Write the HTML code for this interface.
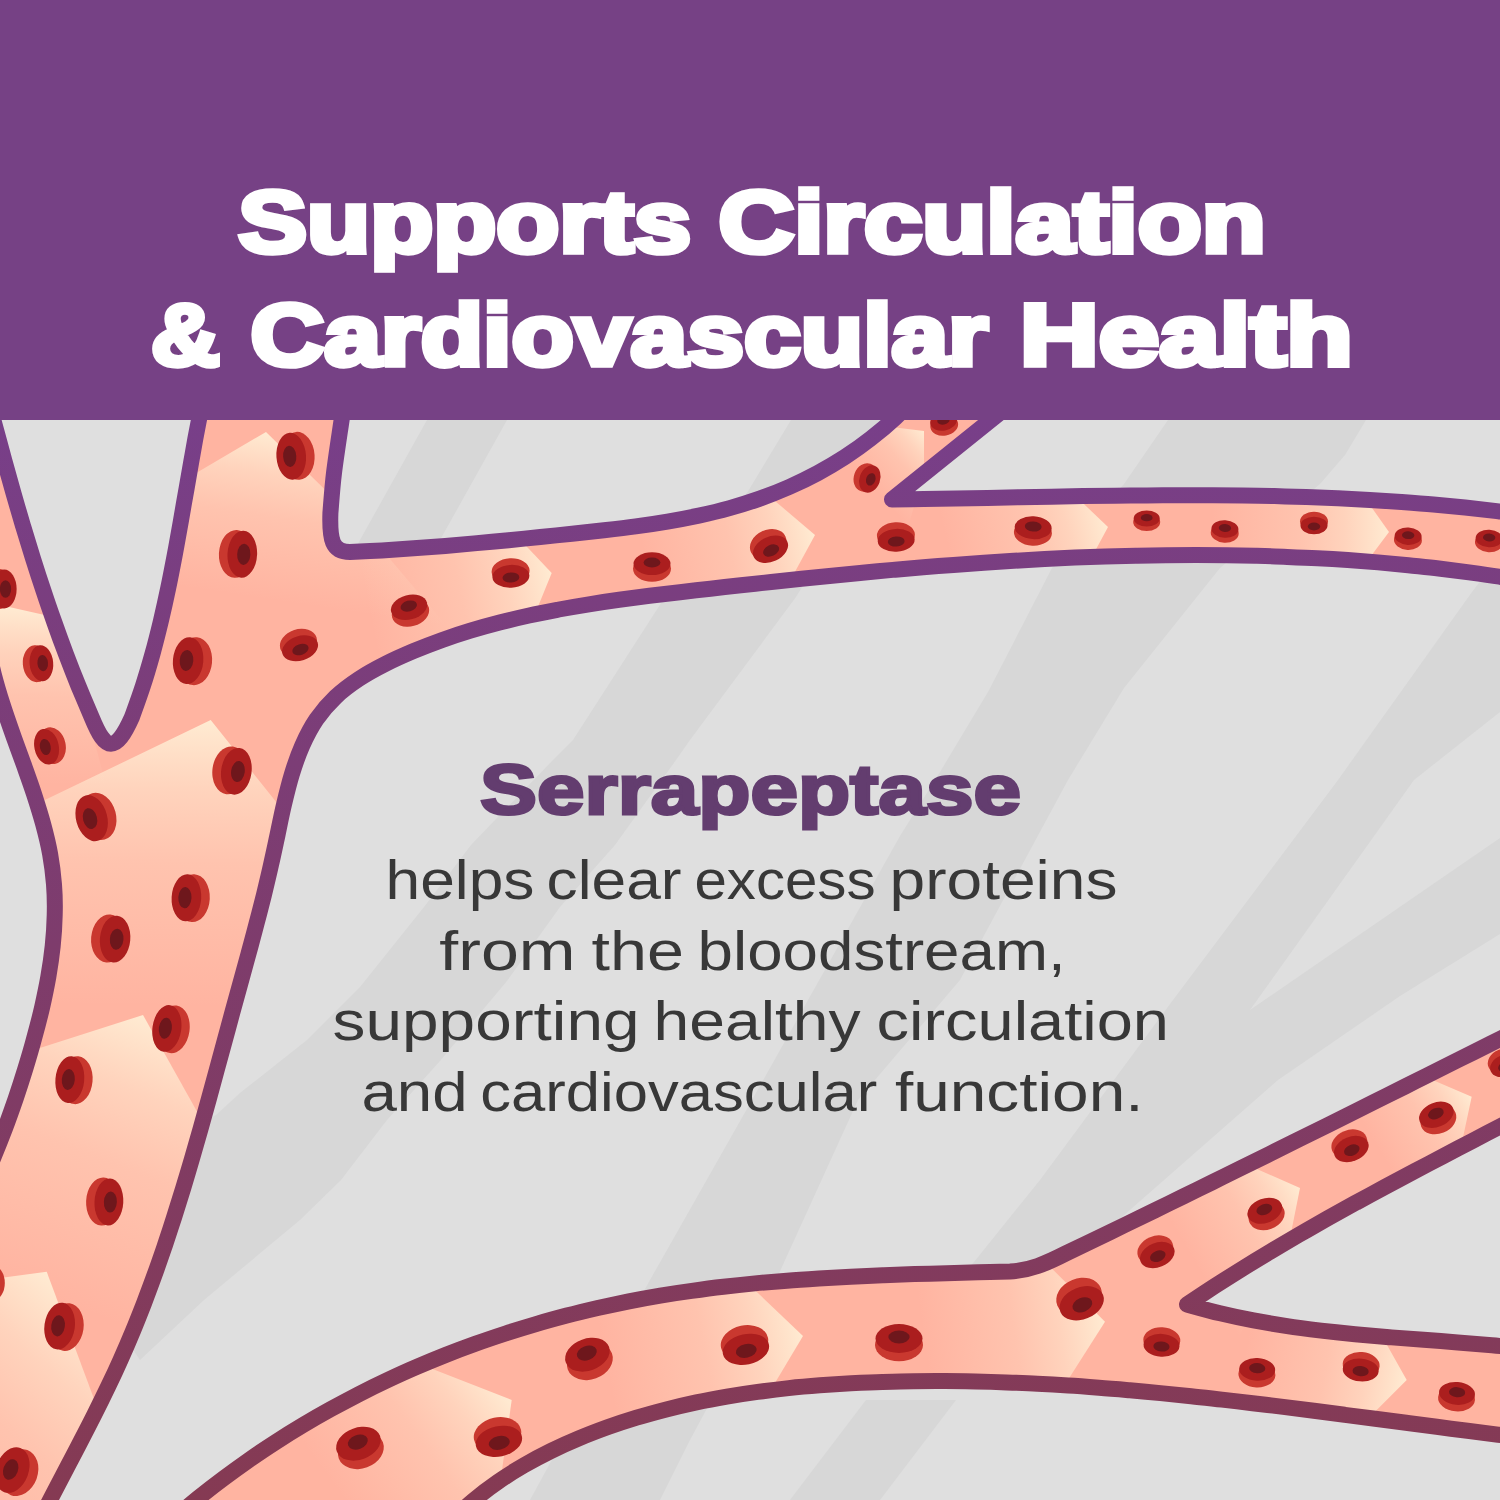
<!DOCTYPE html>
<html><head><meta charset="utf-8"><title>Supports Circulation</title>
<style>html,body{margin:0;padding:0;background:#dfdfdf;}body{width:1500px;height:1500px;position:relative;overflow:hidden;font-family:"Liberation Sans",sans-serif;}</style></head>
<body>
<svg width="1500" height="1500" viewBox="0 0 1500 1500" style="position:absolute;left:0;top:0">
<defs>
<linearGradient id="strk" gradientUnits="userSpaceOnUse" x1="0" y1="420" x2="0" y2="1500"><stop offset="0" stop-color="#783f89"/><stop offset="0.486" stop-color="#7e3c6c"/><stop offset="1" stop-color="#853a53"/></linearGradient>
<clipPath id="ct"><path d="M-30.0,330.0 C-28.6,335.5 -24.4,351.8 -21.5,362.8 C-18.7,373.7 -15.9,384.6 -13.0,395.5 C-10.1,406.5 -7.3,417.4 -4.4,428.3 C-1.4,439.2 1.5,450.1 4.5,461.0 C7.5,471.9 10.5,482.8 13.6,493.6 C16.7,504.5 19.9,515.3 23.1,526.2 C26.4,537.0 29.7,547.8 33.0,558.5 C36.4,569.3 39.9,580.1 43.5,590.8 C47.0,601.5 50.7,612.1 54.5,622.8 C58.2,633.4 62.1,644.0 66.1,654.5 C70.1,665.1 74.2,675.6 78.5,686.1 C82.8,696.5 89.5,712.1 91.7,717.3 C99.0,735.0 104.5,743.8 111.0,743.8 C117.5,743.8 124.0,735.0 131.9,717.3 L131.9,717.3 C133.8,712.0 139.6,696.2 143.0,685.6 C146.5,675.0 149.6,664.2 152.6,653.5 C155.6,642.7 158.3,631.8 160.9,621.0 C163.5,610.1 165.9,599.2 168.2,588.2 C170.5,577.2 172.6,566.2 174.7,555.2 C176.8,544.2 178.7,533.2 180.7,522.1 C182.6,511.1 184.5,500.0 186.5,489.0 C188.4,477.9 190.3,466.9 192.3,455.9 C194.2,444.8 196.2,433.8 198.4,422.8 C200.5,411.9 203.9,395.5 205.0,390.0 L346.0,390.0 C345.3,395.0 343.6,406.2 341.6,420.0 C339.6,433.8 335.9,457.5 334.0,473.0 C332.1,488.5 331.0,506.3 330.4,513.0 C329.5,540.0 332.0,552.0 350.0,552.0 L350.0,552.0 C355.3,551.7 371.3,551.0 381.9,550.4 C392.5,549.7 403.1,549.0 413.6,548.3 C424.2,547.5 434.8,546.7 445.3,545.9 C455.9,545.0 466.4,544.1 476.9,543.1 C487.5,542.2 498.0,541.2 508.6,540.2 C519.2,539.1 529.7,538.1 540.3,537.0 C550.9,535.9 561.5,534.9 572.1,533.8 C582.7,532.6 593.4,531.5 604.0,530.3 C614.6,529.1 625.2,527.9 635.8,526.4 C646.4,525.0 657.0,523.4 667.5,521.6 C678.0,519.9 688.4,517.9 698.8,515.7 C709.1,513.4 719.5,510.9 729.6,508.1 C739.8,505.3 749.9,502.1 759.8,498.6 C769.8,495.1 779.6,491.2 789.2,487.0 C798.9,482.7 808.4,478.1 817.7,473.1 C826.9,468.1 836.1,462.7 844.9,457.0 C853.8,451.2 862.4,445.1 870.8,438.5 C879.2,432.0 887.4,425.1 895.2,417.8 C903.1,410.6 914.2,398.8 918.0,395.0 L1022.0,395.0 C1000.3,412.4 913.7,482.1 892.0,499.5 L892.0,499.5 C897.3,499.4 913.2,499.2 923.8,499.1 C934.4,498.9 945.0,498.7 955.7,498.5 C966.3,498.3 976.9,498.1 987.5,497.9 C998.1,497.7 1008.7,497.5 1019.4,497.3 C1030.0,497.1 1040.6,496.9 1051.2,496.7 C1061.9,496.5 1072.5,496.3 1083.1,496.1 C1093.8,496.0 1104.4,495.8 1115.0,495.7 C1125.6,495.6 1136.3,495.4 1146.9,495.4 C1157.5,495.3 1168.2,495.2 1178.8,495.2 C1189.4,495.2 1200.0,495.2 1210.7,495.3 C1221.3,495.3 1231.9,495.4 1242.5,495.5 C1253.1,495.7 1263.8,495.9 1274.4,496.1 C1285.0,496.4 1295.6,496.6 1306.2,497.0 C1316.8,497.4 1327.4,497.8 1338.0,498.2 C1348.6,498.7 1359.2,499.3 1369.8,499.9 C1380.4,500.5 1391.0,501.2 1401.6,501.9 C1412.2,502.7 1422.8,503.5 1433.4,504.5 C1443.9,505.4 1454.5,506.4 1465.1,507.5 C1475.6,508.6 1486.2,509.8 1496.8,511.1 C1507.3,512.4 1517.9,513.7 1528.4,515.2 C1538.9,516.7 1554.7,519.2 1560.0,520.0 L1560.0,587.0 C1554.9,586.1 1539.8,583.3 1529.7,581.5 C1519.6,579.8 1509.5,578.2 1499.4,576.7 C1489.3,575.1 1479.2,573.7 1469.1,572.3 C1458.9,571.0 1448.8,569.7 1438.7,568.5 C1428.6,567.3 1418.5,566.3 1408.4,565.2 C1398.3,564.2 1388.2,563.3 1378.1,562.4 C1368.0,561.6 1357.9,560.8 1347.8,560.1 C1337.7,559.4 1327.6,558.8 1317.5,558.3 C1307.4,557.7 1297.3,557.3 1287.2,556.9 C1277.1,556.4 1267.0,556.1 1256.9,555.8 C1246.8,555.6 1236.7,555.4 1226.6,555.3 C1216.4,555.1 1206.3,555.0 1196.2,555.0 C1186.1,555.0 1176.0,555.1 1165.9,555.2 C1155.8,555.3 1145.7,555.5 1135.6,555.7 C1125.5,555.9 1115.4,556.2 1105.3,556.5 C1095.1,556.8 1085.0,557.2 1074.9,557.6 C1064.8,558.1 1054.7,558.6 1044.6,559.1 C1034.5,559.6 1024.4,560.2 1014.2,560.8 C1004.1,561.4 994.0,562.0 983.9,562.7 C973.8,563.4 963.7,564.1 953.5,564.9 C943.4,565.7 933.3,566.5 923.2,567.3 C913.0,568.2 902.9,569.0 892.8,569.9 C882.7,570.8 872.5,571.8 862.4,572.7 C852.3,573.7 842.2,574.6 832.0,575.7 C821.9,576.7 811.8,577.7 801.6,578.7 C791.5,579.8 781.4,580.9 771.2,582.0 C761.1,583.0 750.9,584.2 740.8,585.3 C730.7,586.4 720.5,587.5 710.4,588.7 C700.2,589.8 690.1,591.0 679.9,592.2 C669.8,593.4 659.6,594.6 649.5,595.8 C639.4,597.1 629.3,598.4 619.2,599.8 C609.1,601.2 599.0,602.7 589.0,604.3 C578.9,605.9 568.9,607.6 558.9,609.5 C549.0,611.4 539.0,613.3 529.1,615.5 C519.2,617.7 509.4,620.0 499.6,622.5 C489.8,625.0 480.1,627.7 470.4,630.7 C460.8,633.6 451.2,636.8 441.6,640.2 C432.1,643.6 422.7,647.3 413.3,651.2 C403.9,655.2 394.5,659.3 385.5,663.9 C376.4,668.5 367.4,673.4 359.0,678.9 C350.7,684.4 342.6,690.3 335.5,697.1 C328.4,703.8 322.0,711.3 316.4,719.4 C310.9,727.5 306.3,736.5 302.2,745.7 C298.1,754.9 294.8,764.7 291.8,774.5 C288.8,784.3 286.4,794.4 284.0,804.5 C281.6,814.6 279.6,824.9 277.5,835.0 C275.3,845.2 273.2,855.3 270.9,865.3 C268.7,875.3 266.3,885.2 263.9,895.1 C261.4,905.0 258.9,914.7 256.3,924.5 C253.8,934.3 251.1,944.0 248.5,953.7 C245.9,963.4 243.2,973.1 240.5,982.8 C237.9,992.5 235.2,1002.2 232.5,1011.9 C229.9,1021.7 227.2,1031.4 224.6,1041.2 C222.0,1050.9 219.3,1060.7 216.6,1070.5 C214.0,1080.3 211.3,1090.1 208.6,1099.9 C205.9,1109.7 203.2,1119.5 200.4,1129.3 C197.7,1139.0 194.9,1148.8 192.0,1158.6 C189.1,1168.4 186.3,1178.1 183.3,1187.9 C180.3,1197.6 177.3,1207.3 174.2,1217.0 C171.1,1226.7 167.9,1236.3 164.7,1246.0 C161.4,1255.6 158.1,1265.2 154.6,1274.8 C151.2,1284.3 147.6,1293.8 144.0,1303.3 C140.3,1312.8 136.6,1322.2 132.7,1331.6 C128.8,1341.0 124.8,1350.3 120.7,1359.5 C116.6,1368.8 112.3,1378.0 107.9,1387.1 C103.5,1396.3 99.0,1405.4 94.4,1414.5 C89.9,1423.5 85.2,1432.6 80.5,1441.6 C75.9,1450.6 71.1,1459.6 66.4,1468.6 C61.7,1477.6 57.0,1486.6 52.3,1495.6 C47.7,1504.6 43.0,1513.6 38.4,1522.7 C33.9,1531.8 27.2,1545.5 25.0,1550.0 L-60.0,1550.0 C-64.0,1543.7 -77.3,1524.4 -84.0,1512.2 C-90.7,1500.0 -95.9,1488.2 -100.0,1476.6 C-104.2,1465.1 -107.0,1454.0 -108.9,1443.0 C-110.8,1432.1 -111.6,1421.5 -111.6,1411.1 C-111.6,1400.7 -110.6,1390.6 -109.0,1380.6 C-107.4,1370.6 -104.9,1360.9 -102.0,1351.3 C-99.1,1341.7 -95.5,1332.2 -91.5,1322.9 C-87.6,1313.5 -83.2,1304.3 -78.5,1295.1 C-73.9,1285.9 -68.9,1276.8 -63.9,1267.7 C-58.9,1258.6 -53.6,1249.5 -48.5,1240.4 C-43.4,1231.3 -38.2,1222.2 -33.3,1213.0 C-28.4,1203.8 -23.6,1194.6 -19.1,1185.2 C-14.6,1175.8 -10.4,1166.4 -6.3,1156.9 C-2.3,1147.3 1.5,1137.7 5.2,1128.0 C8.9,1118.3 12.3,1108.5 15.7,1098.7 C19.0,1088.8 22.2,1078.8 25.3,1068.8 C28.4,1058.8 31.4,1048.7 34.1,1038.5 C36.9,1028.4 39.6,1018.1 42.0,1007.9 C44.3,997.6 46.5,987.3 48.3,977.0 C50.1,966.7 51.6,956.4 52.7,946.1 C53.8,935.7 54.5,925.4 54.7,915.1 C55.0,904.9 54.8,894.6 54.0,884.4 C53.2,874.2 51.9,864.1 50.1,854.0 C48.3,843.9 45.8,833.9 43.1,823.9 C40.4,813.9 37.2,803.9 34.0,794.0 C30.7,784.0 27.1,774.1 23.6,764.2 C20.1,754.3 16.3,744.4 12.8,734.4 C9.3,724.5 5.8,714.5 2.6,704.5 C-0.6,694.5 -3.6,684.5 -6.2,674.4 C-8.8,664.3 -10.8,654.1 -12.9,644.0 C-15.0,633.8 -16.6,623.6 -18.8,613.5 C-21.0,603.4 -23.1,593.3 -26.1,583.4 C-29.2,573.5 -32.5,563.7 -37.0,554.1 C-41.6,544.5 -47.6,535.2 -53.5,525.8 C-59.4,516.5 -67.1,507.5 -72.4,498.0 C-77.8,488.5 -83.5,479.1 -85.5,468.9 C-87.5,458.7 -88.4,448.3 -84.2,436.8 C-79.9,425.3 -64.0,406.1 -60.0,400.0 Z"/></clipPath>
<clipPath id="cb"><path d="M150.0,1540.0 C154.0,1536.4 165.8,1525.5 173.8,1518.5 C181.9,1511.5 190.1,1504.7 198.3,1498.0 C206.6,1491.3 215.0,1484.8 223.6,1478.4 C232.1,1472.0 240.7,1465.8 249.4,1459.7 C258.1,1453.7 267.0,1447.7 275.9,1442.0 C284.8,1436.2 293.8,1430.6 302.9,1425.2 C312.0,1419.7 321.2,1414.4 330.5,1409.3 C339.8,1404.2 349.2,1399.2 358.6,1394.3 C368.0,1389.5 377.6,1384.8 387.2,1380.3 C396.8,1375.8 406.4,1371.4 416.2,1367.2 C425.9,1363.0 435.7,1358.9 445.6,1355.0 C455.5,1351.1 465.4,1347.4 475.4,1343.8 C485.4,1340.2 495.5,1336.8 505.6,1333.5 C515.7,1330.2 525.8,1327.1 536.0,1324.1 C546.2,1321.1 556.5,1318.3 566.7,1315.6 C577.0,1312.9 587.4,1310.4 597.7,1308.0 C608.1,1305.7 618.5,1303.5 628.9,1301.4 C639.3,1299.4 649.8,1297.5 660.3,1295.7 C670.7,1293.9 681.2,1292.3 691.8,1290.9 C702.3,1289.4 712.8,1288.0 723.4,1286.8 C734.0,1285.5 744.5,1284.4 755.1,1283.4 C765.7,1282.4 776.3,1281.5 787.0,1280.7 C797.6,1279.8 808.2,1279.1 818.8,1278.4 C829.5,1277.8 840.1,1277.2 850.7,1276.7 C861.4,1276.1 872.0,1275.7 882.7,1275.2 C893.3,1274.8 903.9,1274.5 914.6,1274.1 C925.2,1273.8 935.8,1273.5 946.4,1273.2 C957.1,1272.9 967.7,1272.6 978.3,1272.3 C988.9,1272.0 1004.7,1271.6 1010.0,1271.5 C1030.0,1270.5 1045.0,1264.0 1066.7,1253.0 L1066.7,1253.0 C1071.6,1250.7 1086.2,1243.6 1095.9,1239.0 C1105.6,1234.3 1115.3,1229.6 1125.0,1224.9 C1134.7,1220.1 1144.4,1215.4 1154.1,1210.7 C1163.8,1206.0 1173.5,1201.2 1183.2,1196.5 C1192.9,1191.7 1202.6,1187.0 1212.3,1182.2 C1222.0,1177.5 1231.6,1172.7 1241.3,1167.9 C1251.0,1163.1 1260.7,1158.4 1270.3,1153.6 C1280.0,1148.8 1289.7,1144.0 1299.3,1139.2 C1309.0,1134.4 1318.7,1129.6 1328.3,1124.8 C1338.0,1120.0 1347.7,1115.2 1357.3,1110.4 C1367.0,1105.5 1376.6,1100.7 1386.3,1095.9 C1395.9,1091.1 1405.6,1086.3 1415.2,1081.4 C1424.9,1076.6 1434.5,1071.8 1444.2,1066.9 C1453.8,1062.1 1463.5,1057.3 1473.1,1052.5 C1482.8,1047.6 1492.4,1042.8 1502.1,1038.0 C1511.7,1033.1 1521.4,1028.3 1531.0,1023.5 C1540.7,1018.7 1555.2,1011.4 1560.0,1009.0 L1560.0,1095.0 C1555.1,1097.6 1540.6,1105.2 1530.9,1110.3 C1521.2,1115.4 1511.4,1120.5 1501.7,1125.6 C1492.0,1130.7 1482.2,1135.7 1472.5,1140.8 C1462.8,1145.9 1453.0,1151.0 1443.3,1156.1 C1433.6,1161.2 1423.9,1166.3 1414.2,1171.4 C1404.5,1176.6 1394.8,1181.7 1385.1,1186.9 C1375.4,1192.1 1365.8,1197.4 1356.1,1202.6 C1346.5,1207.9 1336.9,1213.2 1327.3,1218.6 C1317.8,1224.0 1308.2,1229.4 1298.7,1234.9 C1289.3,1240.4 1279.8,1246.0 1270.4,1251.6 C1261.0,1257.2 1251.6,1262.9 1242.3,1268.7 C1233.0,1274.5 1223.7,1280.4 1214.5,1286.3 C1205.3,1292.3 1191.6,1301.5 1187.0,1304.5 L1187.0,1304.5 C1192.5,1306.0 1209.0,1310.7 1220.1,1313.3 C1231.2,1316.0 1242.3,1318.3 1253.5,1320.4 C1264.7,1322.5 1275.9,1324.4 1287.2,1326.1 C1298.4,1327.8 1309.7,1329.2 1321.1,1330.6 C1332.4,1331.9 1343.8,1333.1 1355.1,1334.2 C1366.5,1335.3 1377.9,1336.2 1389.3,1337.2 C1400.7,1338.1 1412.1,1338.9 1423.6,1339.8 C1435.0,1340.7 1446.4,1341.5 1457.8,1342.4 C1469.2,1343.3 1480.6,1344.2 1492.0,1345.2 C1503.4,1346.2 1514.7,1347.2 1526.1,1348.5 C1537.4,1349.7 1554.3,1351.8 1560.0,1352.5 L1560.0,1442.0 C1554.8,1441.4 1539.4,1439.6 1529.1,1438.4 C1518.8,1437.2 1508.5,1435.9 1498.2,1434.7 C1488.0,1433.4 1477.7,1432.1 1467.4,1430.8 C1457.2,1429.5 1446.9,1428.2 1436.7,1426.8 C1426.4,1425.5 1416.2,1424.2 1406.0,1422.8 C1395.7,1421.5 1385.5,1420.1 1375.2,1418.8 C1365.0,1417.4 1354.8,1416.1 1344.6,1414.8 C1334.3,1413.4 1324.1,1412.1 1313.9,1410.8 C1303.7,1409.5 1293.5,1408.2 1283.2,1406.9 C1273.0,1405.7 1262.8,1404.4 1252.6,1403.2 C1242.4,1402.0 1232.1,1400.8 1221.9,1399.6 C1211.7,1398.5 1201.5,1397.3 1191.2,1396.3 C1181.0,1395.2 1170.8,1394.1 1160.5,1393.1 C1150.3,1392.1 1140.0,1391.2 1129.8,1390.3 C1119.5,1389.4 1109.3,1388.5 1099.0,1387.8 C1088.8,1387.0 1078.5,1386.2 1068.2,1385.6 C1058.0,1384.9 1047.7,1384.3 1037.4,1383.8 C1027.1,1383.2 1016.8,1382.8 1006.5,1382.4 C996.2,1382.0 985.9,1381.7 975.5,1381.5 C965.2,1381.3 954.9,1381.1 944.5,1381.1 C934.2,1381.0 923.8,1381.1 913.4,1381.2 C903.0,1381.3 892.7,1381.6 882.3,1381.9 C871.9,1382.2 861.4,1382.7 851.0,1383.2 C840.6,1383.8 830.2,1384.5 819.8,1385.3 C809.4,1386.1 799.0,1387.0 788.7,1388.1 C778.3,1389.2 768.0,1390.5 757.7,1391.9 C747.4,1393.3 737.1,1394.9 726.9,1396.6 C716.7,1398.4 706.5,1400.3 696.4,1402.4 C686.3,1404.6 676.3,1406.9 666.3,1409.4 C656.3,1412.0 646.4,1414.7 636.6,1417.7 C626.8,1420.7 617.1,1423.9 607.4,1427.3 C597.8,1430.8 588.3,1434.4 578.8,1438.4 C569.4,1442.3 560.1,1446.5 550.9,1451.0 C541.7,1455.5 532.7,1460.3 523.9,1465.4 C515.1,1470.5 506.4,1475.9 498.1,1481.8 C489.7,1487.6 481.5,1493.8 473.6,1500.4 C465.8,1507.0 458.1,1513.9 450.9,1521.4 C443.6,1528.8 433.5,1541.1 430.0,1545.0 Z"/></clipPath>
<linearGradient id="tg0" gradientUnits="userSpaceOnUse" x1="244.8" y1="596.5" x2="269.2" y2="432.5"><stop offset="0" stop-color="#ffe4cb" stop-opacity="0"/><stop offset="0.5" stop-color="#ffe4cb" stop-opacity="0.32"/><stop offset="0.75" stop-color="#ffe6cd" stop-opacity="0.62"/><stop offset="1" stop-color="#ffebd2" stop-opacity="1"/></linearGradient>
<linearGradient id="tg1" gradientUnits="userSpaceOnUse" x1="158.3" y1="1006.5" x2="162.1" y2="719.4"><stop offset="0" stop-color="#ffe4cb" stop-opacity="0"/><stop offset="0.5" stop-color="#ffe4cb" stop-opacity="0.32"/><stop offset="0.75" stop-color="#ffe6cd" stop-opacity="0.62"/><stop offset="1" stop-color="#ffebd2" stop-opacity="1"/></linearGradient>
<linearGradient id="tg2" gradientUnits="userSpaceOnUse" x1="34.5" y1="1292.5" x2="142.0" y2="1014.6"><stop offset="0" stop-color="#ffe4cb" stop-opacity="0"/><stop offset="0.5" stop-color="#ffe4cb" stop-opacity="0.32"/><stop offset="0.75" stop-color="#ffe6cd" stop-opacity="0.62"/><stop offset="1" stop-color="#ffebd2" stop-opacity="1"/></linearGradient>
<linearGradient id="tg3" gradientUnits="userSpaceOnUse" x1="-122.3" y1="1507.4" x2="68.7" y2="1291.2"><stop offset="0" stop-color="#ffe4cb" stop-opacity="0"/><stop offset="0.5" stop-color="#ffe4cb" stop-opacity="0.32"/><stop offset="0.75" stop-color="#ffe6cd" stop-opacity="0.62"/><stop offset="1" stop-color="#ffebd2" stop-opacity="1"/></linearGradient>
<linearGradient id="tg4" gradientUnits="userSpaceOnUse" x1="4.3" y1="782.9" x2="10.2" y2="606.8"><stop offset="0" stop-color="#ffe4cb" stop-opacity="0"/><stop offset="0.5" stop-color="#ffe4cb" stop-opacity="0.32"/><stop offset="0.75" stop-color="#ffe6cd" stop-opacity="0.62"/><stop offset="1" stop-color="#ffebd2" stop-opacity="1"/></linearGradient>
<linearGradient id="tg5" gradientUnits="userSpaceOnUse" x1="368.1" y1="608.1" x2="551.6" y2="572.6"><stop offset="0" stop-color="#ffe4cb" stop-opacity="0"/><stop offset="0.5" stop-color="#ffe4cb" stop-opacity="0.32"/><stop offset="0.75" stop-color="#ffe6cd" stop-opacity="0.62"/><stop offset="1" stop-color="#ffebd2" stop-opacity="1"/></linearGradient>
<linearGradient id="tg6" gradientUnits="userSpaceOnUse" x1="646.3" y1="568.3" x2="814.8" y2="533.8"><stop offset="0" stop-color="#ffe4cb" stop-opacity="0"/><stop offset="0.5" stop-color="#ffe4cb" stop-opacity="0.32"/><stop offset="0.75" stop-color="#ffe6cd" stop-opacity="0.62"/><stop offset="1" stop-color="#ffebd2" stop-opacity="1"/></linearGradient>
<linearGradient id="tg7" gradientUnits="userSpaceOnUse" x1="950.8" y1="561.5" x2="1107.2" y2="523.6"><stop offset="0" stop-color="#ffe4cb" stop-opacity="0"/><stop offset="0.5" stop-color="#ffe4cb" stop-opacity="0.32"/><stop offset="0.75" stop-color="#ffe6cd" stop-opacity="0.62"/><stop offset="1" stop-color="#ffebd2" stop-opacity="1"/></linearGradient>
<linearGradient id="tg8" gradientUnits="userSpaceOnUse" x1="1212.0" y1="531.4" x2="1389.0" y2="531.4"><stop offset="0" stop-color="#ffe4cb" stop-opacity="0"/><stop offset="0.5" stop-color="#ffe4cb" stop-opacity="0.32"/><stop offset="0.75" stop-color="#ffe6cd" stop-opacity="0.62"/><stop offset="1" stop-color="#ffebd2" stop-opacity="1"/></linearGradient>
<linearGradient id="tg9" gradientUnits="userSpaceOnUse" x1="867.2" y1="481.4" x2="923.9" y2="430.9"><stop offset="0" stop-color="#ffe4cb" stop-opacity="0"/><stop offset="0.5" stop-color="#ffe4cb" stop-opacity="0.32"/><stop offset="0.75" stop-color="#ffe6cd" stop-opacity="0.62"/><stop offset="1" stop-color="#ffebd2" stop-opacity="1"/></linearGradient>
<linearGradient id="bg0" gradientUnits="userSpaceOnUse" x1="347.9" y1="1505.0" x2="504.7" y2="1390.4"><stop offset="0" stop-color="#ffe4cb" stop-opacity="0"/><stop offset="0.5" stop-color="#ffe4cb" stop-opacity="0.32"/><stop offset="0.75" stop-color="#ffe6cd" stop-opacity="0.62"/><stop offset="1" stop-color="#ffebd2" stop-opacity="1"/></linearGradient>
<linearGradient id="bg1" gradientUnits="userSpaceOnUse" x1="606.4" y1="1369.3" x2="802.0" y2="1330.9"><stop offset="0" stop-color="#ffe4cb" stop-opacity="0"/><stop offset="0.5" stop-color="#ffe4cb" stop-opacity="0.32"/><stop offset="0.75" stop-color="#ffe6cd" stop-opacity="0.62"/><stop offset="1" stop-color="#ffebd2" stop-opacity="1"/></linearGradient>
<linearGradient id="bg2" gradientUnits="userSpaceOnUse" x1="923.9" y1="1344.0" x2="1104.5" y2="1318.2"><stop offset="0" stop-color="#ffe4cb" stop-opacity="0"/><stop offset="0.5" stop-color="#ffe4cb" stop-opacity="0.32"/><stop offset="0.75" stop-color="#ffe6cd" stop-opacity="0.62"/><stop offset="1" stop-color="#ffebd2" stop-opacity="1"/></linearGradient>
<linearGradient id="bg3" gradientUnits="userSpaceOnUse" x1="1187.4" y1="1250.4" x2="1298.5" y2="1185.4"><stop offset="0" stop-color="#ffe4cb" stop-opacity="0"/><stop offset="0.5" stop-color="#ffe4cb" stop-opacity="0.32"/><stop offset="0.75" stop-color="#ffe6cd" stop-opacity="0.62"/><stop offset="1" stop-color="#ffebd2" stop-opacity="1"/></linearGradient>
<linearGradient id="bg4" gradientUnits="userSpaceOnUse" x1="1378.3" y1="1149.2" x2="1469.7" y2="1093.4"><stop offset="0" stop-color="#ffe4cb" stop-opacity="0"/><stop offset="0.5" stop-color="#ffe4cb" stop-opacity="0.32"/><stop offset="0.75" stop-color="#ffe6cd" stop-opacity="0.62"/><stop offset="1" stop-color="#ffebd2" stop-opacity="1"/></linearGradient>
<linearGradient id="bg5" gradientUnits="userSpaceOnUse" x1="1244.5" y1="1353.7" x2="1406.2" y2="1382.6"><stop offset="0" stop-color="#ffe4cb" stop-opacity="0"/><stop offset="0.5" stop-color="#ffe4cb" stop-opacity="0.32"/><stop offset="0.75" stop-color="#ffe6cd" stop-opacity="0.62"/><stop offset="1" stop-color="#ffebd2" stop-opacity="1"/></linearGradient>
</defs>
<rect x="0" y="0" width="1500" height="1500" fill="#dfdfdf"/>
<g id="stripes"><polygon points="1168,420 1366,420 1345,455 1320,484 1220,568 1124,688 1068,780 960,980 858,1100 776,1280 690,1440 660,1500 530,1500 650,1280 752,1100 900,836 940,772 988,692 1052,568 1124,484" fill="#d7d7d7"/><polygon points="791,420 904,420 796,597 690,740 676,760 615,845 560,907 507,981 440,1061 387,1120 341,1180 300,1220 204,1300 140,1360 100,1300 150,1150 216,1115 240,1093 307,1040 360,987 424,907 471,845 553,760 573,740 665,597 747,493" fill="#d7d7d7"/><polygon points="427,420 507,420 440,540 350,560 360,540" fill="#d7d7d7"/><polygon points="1472,592 1500,555 1500,712 1414,780 1250,1010 1500,838 1500,934 1400,996 1278,1080 1090,1245 1000,1300 940,1300 974,1262 1040,1180 1173,1000 1200,964 1338,780" fill="#d7d7d7"/><polygon points="866,1400 956,1400 880,1500 790,1500" fill="#d7d7d7"/></g>
<path d="M-30.0,330.0 C-28.6,335.5 -24.4,351.8 -21.5,362.8 C-18.7,373.7 -15.9,384.6 -13.0,395.5 C-10.1,406.5 -7.3,417.4 -4.4,428.3 C-1.4,439.2 1.5,450.1 4.5,461.0 C7.5,471.9 10.5,482.8 13.6,493.6 C16.7,504.5 19.9,515.3 23.1,526.2 C26.4,537.0 29.7,547.8 33.0,558.5 C36.4,569.3 39.9,580.1 43.5,590.8 C47.0,601.5 50.7,612.1 54.5,622.8 C58.2,633.4 62.1,644.0 66.1,654.5 C70.1,665.1 74.2,675.6 78.5,686.1 C82.8,696.5 89.5,712.1 91.7,717.3 C99.0,735.0 104.5,743.8 111.0,743.8 C117.5,743.8 124.0,735.0 131.9,717.3 L131.9,717.3 C133.8,712.0 139.6,696.2 143.0,685.6 C146.5,675.0 149.6,664.2 152.6,653.5 C155.6,642.7 158.3,631.8 160.9,621.0 C163.5,610.1 165.9,599.2 168.2,588.2 C170.5,577.2 172.6,566.2 174.7,555.2 C176.8,544.2 178.7,533.2 180.7,522.1 C182.6,511.1 184.5,500.0 186.5,489.0 C188.4,477.9 190.3,466.9 192.3,455.9 C194.2,444.8 196.2,433.8 198.4,422.8 C200.5,411.9 203.9,395.5 205.0,390.0 L346.0,390.0 C345.3,395.0 343.6,406.2 341.6,420.0 C339.6,433.8 335.9,457.5 334.0,473.0 C332.1,488.5 331.0,506.3 330.4,513.0 C329.5,540.0 332.0,552.0 350.0,552.0 L350.0,552.0 C355.3,551.7 371.3,551.0 381.9,550.4 C392.5,549.7 403.1,549.0 413.6,548.3 C424.2,547.5 434.8,546.7 445.3,545.9 C455.9,545.0 466.4,544.1 476.9,543.1 C487.5,542.2 498.0,541.2 508.6,540.2 C519.2,539.1 529.7,538.1 540.3,537.0 C550.9,535.9 561.5,534.9 572.1,533.8 C582.7,532.6 593.4,531.5 604.0,530.3 C614.6,529.1 625.2,527.9 635.8,526.4 C646.4,525.0 657.0,523.4 667.5,521.6 C678.0,519.9 688.4,517.9 698.8,515.7 C709.1,513.4 719.5,510.9 729.6,508.1 C739.8,505.3 749.9,502.1 759.8,498.6 C769.8,495.1 779.6,491.2 789.2,487.0 C798.9,482.7 808.4,478.1 817.7,473.1 C826.9,468.1 836.1,462.7 844.9,457.0 C853.8,451.2 862.4,445.1 870.8,438.5 C879.2,432.0 887.4,425.1 895.2,417.8 C903.1,410.6 914.2,398.8 918.0,395.0 L1022.0,395.0 C1000.3,412.4 913.7,482.1 892.0,499.5 L892.0,499.5 C897.3,499.4 913.2,499.2 923.8,499.1 C934.4,498.9 945.0,498.7 955.7,498.5 C966.3,498.3 976.9,498.1 987.5,497.9 C998.1,497.7 1008.7,497.5 1019.4,497.3 C1030.0,497.1 1040.6,496.9 1051.2,496.7 C1061.9,496.5 1072.5,496.3 1083.1,496.1 C1093.8,496.0 1104.4,495.8 1115.0,495.7 C1125.6,495.6 1136.3,495.4 1146.9,495.4 C1157.5,495.3 1168.2,495.2 1178.8,495.2 C1189.4,495.2 1200.0,495.2 1210.7,495.3 C1221.3,495.3 1231.9,495.4 1242.5,495.5 C1253.1,495.7 1263.8,495.9 1274.4,496.1 C1285.0,496.4 1295.6,496.6 1306.2,497.0 C1316.8,497.4 1327.4,497.8 1338.0,498.2 C1348.6,498.7 1359.2,499.3 1369.8,499.9 C1380.4,500.5 1391.0,501.2 1401.6,501.9 C1412.2,502.7 1422.8,503.5 1433.4,504.5 C1443.9,505.4 1454.5,506.4 1465.1,507.5 C1475.6,508.6 1486.2,509.8 1496.8,511.1 C1507.3,512.4 1517.9,513.7 1528.4,515.2 C1538.9,516.7 1554.7,519.2 1560.0,520.0 L1560.0,587.0 C1554.9,586.1 1539.8,583.3 1529.7,581.5 C1519.6,579.8 1509.5,578.2 1499.4,576.7 C1489.3,575.1 1479.2,573.7 1469.1,572.3 C1458.9,571.0 1448.8,569.7 1438.7,568.5 C1428.6,567.3 1418.5,566.3 1408.4,565.2 C1398.3,564.2 1388.2,563.3 1378.1,562.4 C1368.0,561.6 1357.9,560.8 1347.8,560.1 C1337.7,559.4 1327.6,558.8 1317.5,558.3 C1307.4,557.7 1297.3,557.3 1287.2,556.9 C1277.1,556.4 1267.0,556.1 1256.9,555.8 C1246.8,555.6 1236.7,555.4 1226.6,555.3 C1216.4,555.1 1206.3,555.0 1196.2,555.0 C1186.1,555.0 1176.0,555.1 1165.9,555.2 C1155.8,555.3 1145.7,555.5 1135.6,555.7 C1125.5,555.9 1115.4,556.2 1105.3,556.5 C1095.1,556.8 1085.0,557.2 1074.9,557.6 C1064.8,558.1 1054.7,558.6 1044.6,559.1 C1034.5,559.6 1024.4,560.2 1014.2,560.8 C1004.1,561.4 994.0,562.0 983.9,562.7 C973.8,563.4 963.7,564.1 953.5,564.9 C943.4,565.7 933.3,566.5 923.2,567.3 C913.0,568.2 902.9,569.0 892.8,569.9 C882.7,570.8 872.5,571.8 862.4,572.7 C852.3,573.7 842.2,574.6 832.0,575.7 C821.9,576.7 811.8,577.7 801.6,578.7 C791.5,579.8 781.4,580.9 771.2,582.0 C761.1,583.0 750.9,584.2 740.8,585.3 C730.7,586.4 720.5,587.5 710.4,588.7 C700.2,589.8 690.1,591.0 679.9,592.2 C669.8,593.4 659.6,594.6 649.5,595.8 C639.4,597.1 629.3,598.4 619.2,599.8 C609.1,601.2 599.0,602.7 589.0,604.3 C578.9,605.9 568.9,607.6 558.9,609.5 C549.0,611.4 539.0,613.3 529.1,615.5 C519.2,617.7 509.4,620.0 499.6,622.5 C489.8,625.0 480.1,627.7 470.4,630.7 C460.8,633.6 451.2,636.8 441.6,640.2 C432.1,643.6 422.7,647.3 413.3,651.2 C403.9,655.2 394.5,659.3 385.5,663.9 C376.4,668.5 367.4,673.4 359.0,678.9 C350.7,684.4 342.6,690.3 335.5,697.1 C328.4,703.8 322.0,711.3 316.4,719.4 C310.9,727.5 306.3,736.5 302.2,745.7 C298.1,754.9 294.8,764.7 291.8,774.5 C288.8,784.3 286.4,794.4 284.0,804.5 C281.6,814.6 279.6,824.9 277.5,835.0 C275.3,845.2 273.2,855.3 270.9,865.3 C268.7,875.3 266.3,885.2 263.9,895.1 C261.4,905.0 258.9,914.7 256.3,924.5 C253.8,934.3 251.1,944.0 248.5,953.7 C245.9,963.4 243.2,973.1 240.5,982.8 C237.9,992.5 235.2,1002.2 232.5,1011.9 C229.9,1021.7 227.2,1031.4 224.6,1041.2 C222.0,1050.9 219.3,1060.7 216.6,1070.5 C214.0,1080.3 211.3,1090.1 208.6,1099.9 C205.9,1109.7 203.2,1119.5 200.4,1129.3 C197.7,1139.0 194.9,1148.8 192.0,1158.6 C189.1,1168.4 186.3,1178.1 183.3,1187.9 C180.3,1197.6 177.3,1207.3 174.2,1217.0 C171.1,1226.7 167.9,1236.3 164.7,1246.0 C161.4,1255.6 158.1,1265.2 154.6,1274.8 C151.2,1284.3 147.6,1293.8 144.0,1303.3 C140.3,1312.8 136.6,1322.2 132.7,1331.6 C128.8,1341.0 124.8,1350.3 120.7,1359.5 C116.6,1368.8 112.3,1378.0 107.9,1387.1 C103.5,1396.3 99.0,1405.4 94.4,1414.5 C89.9,1423.5 85.2,1432.6 80.5,1441.6 C75.9,1450.6 71.1,1459.6 66.4,1468.6 C61.7,1477.6 57.0,1486.6 52.3,1495.6 C47.7,1504.6 43.0,1513.6 38.4,1522.7 C33.9,1531.8 27.2,1545.5 25.0,1550.0 L-60.0,1550.0 C-64.0,1543.7 -77.3,1524.4 -84.0,1512.2 C-90.7,1500.0 -95.9,1488.2 -100.0,1476.6 C-104.2,1465.1 -107.0,1454.0 -108.9,1443.0 C-110.8,1432.1 -111.6,1421.5 -111.6,1411.1 C-111.6,1400.7 -110.6,1390.6 -109.0,1380.6 C-107.4,1370.6 -104.9,1360.9 -102.0,1351.3 C-99.1,1341.7 -95.5,1332.2 -91.5,1322.9 C-87.6,1313.5 -83.2,1304.3 -78.5,1295.1 C-73.9,1285.9 -68.9,1276.8 -63.9,1267.7 C-58.9,1258.6 -53.6,1249.5 -48.5,1240.4 C-43.4,1231.3 -38.2,1222.2 -33.3,1213.0 C-28.4,1203.8 -23.6,1194.6 -19.1,1185.2 C-14.6,1175.8 -10.4,1166.4 -6.3,1156.9 C-2.3,1147.3 1.5,1137.7 5.2,1128.0 C8.9,1118.3 12.3,1108.5 15.7,1098.7 C19.0,1088.8 22.2,1078.8 25.3,1068.8 C28.4,1058.8 31.4,1048.7 34.1,1038.5 C36.9,1028.4 39.6,1018.1 42.0,1007.9 C44.3,997.6 46.5,987.3 48.3,977.0 C50.1,966.7 51.6,956.4 52.7,946.1 C53.8,935.7 54.5,925.4 54.7,915.1 C55.0,904.9 54.8,894.6 54.0,884.4 C53.2,874.2 51.9,864.1 50.1,854.0 C48.3,843.9 45.8,833.9 43.1,823.9 C40.4,813.9 37.2,803.9 34.0,794.0 C30.7,784.0 27.1,774.1 23.6,764.2 C20.1,754.3 16.3,744.4 12.8,734.4 C9.3,724.5 5.8,714.5 2.6,704.5 C-0.6,694.5 -3.6,684.5 -6.2,674.4 C-8.8,664.3 -10.8,654.1 -12.9,644.0 C-15.0,633.8 -16.6,623.6 -18.8,613.5 C-21.0,603.4 -23.1,593.3 -26.1,583.4 C-29.2,573.5 -32.5,563.7 -37.0,554.1 C-41.6,544.5 -47.6,535.2 -53.5,525.8 C-59.4,516.5 -67.1,507.5 -72.4,498.0 C-77.8,488.5 -83.5,479.1 -85.5,468.9 C-87.5,458.7 -88.4,448.3 -84.2,436.8 C-79.9,425.3 -64.0,406.1 -60.0,400.0 Z" fill="#ffb4a1"/>
<path d="M150.0,1540.0 C154.0,1536.4 165.8,1525.5 173.8,1518.5 C181.9,1511.5 190.1,1504.7 198.3,1498.0 C206.6,1491.3 215.0,1484.8 223.6,1478.4 C232.1,1472.0 240.7,1465.8 249.4,1459.7 C258.1,1453.7 267.0,1447.7 275.9,1442.0 C284.8,1436.2 293.8,1430.6 302.9,1425.2 C312.0,1419.7 321.2,1414.4 330.5,1409.3 C339.8,1404.2 349.2,1399.2 358.6,1394.3 C368.0,1389.5 377.6,1384.8 387.2,1380.3 C396.8,1375.8 406.4,1371.4 416.2,1367.2 C425.9,1363.0 435.7,1358.9 445.6,1355.0 C455.5,1351.1 465.4,1347.4 475.4,1343.8 C485.4,1340.2 495.5,1336.8 505.6,1333.5 C515.7,1330.2 525.8,1327.1 536.0,1324.1 C546.2,1321.1 556.5,1318.3 566.7,1315.6 C577.0,1312.9 587.4,1310.4 597.7,1308.0 C608.1,1305.7 618.5,1303.5 628.9,1301.4 C639.3,1299.4 649.8,1297.5 660.3,1295.7 C670.7,1293.9 681.2,1292.3 691.8,1290.9 C702.3,1289.4 712.8,1288.0 723.4,1286.8 C734.0,1285.5 744.5,1284.4 755.1,1283.4 C765.7,1282.4 776.3,1281.5 787.0,1280.7 C797.6,1279.8 808.2,1279.1 818.8,1278.4 C829.5,1277.8 840.1,1277.2 850.7,1276.7 C861.4,1276.1 872.0,1275.7 882.7,1275.2 C893.3,1274.8 903.9,1274.5 914.6,1274.1 C925.2,1273.8 935.8,1273.5 946.4,1273.2 C957.1,1272.9 967.7,1272.6 978.3,1272.3 C988.9,1272.0 1004.7,1271.6 1010.0,1271.5 C1030.0,1270.5 1045.0,1264.0 1066.7,1253.0 L1066.7,1253.0 C1071.6,1250.7 1086.2,1243.6 1095.9,1239.0 C1105.6,1234.3 1115.3,1229.6 1125.0,1224.9 C1134.7,1220.1 1144.4,1215.4 1154.1,1210.7 C1163.8,1206.0 1173.5,1201.2 1183.2,1196.5 C1192.9,1191.7 1202.6,1187.0 1212.3,1182.2 C1222.0,1177.5 1231.6,1172.7 1241.3,1167.9 C1251.0,1163.1 1260.7,1158.4 1270.3,1153.6 C1280.0,1148.8 1289.7,1144.0 1299.3,1139.2 C1309.0,1134.4 1318.7,1129.6 1328.3,1124.8 C1338.0,1120.0 1347.7,1115.2 1357.3,1110.4 C1367.0,1105.5 1376.6,1100.7 1386.3,1095.9 C1395.9,1091.1 1405.6,1086.3 1415.2,1081.4 C1424.9,1076.6 1434.5,1071.8 1444.2,1066.9 C1453.8,1062.1 1463.5,1057.3 1473.1,1052.5 C1482.8,1047.6 1492.4,1042.8 1502.1,1038.0 C1511.7,1033.1 1521.4,1028.3 1531.0,1023.5 C1540.7,1018.7 1555.2,1011.4 1560.0,1009.0 L1560.0,1095.0 C1555.1,1097.6 1540.6,1105.2 1530.9,1110.3 C1521.2,1115.4 1511.4,1120.5 1501.7,1125.6 C1492.0,1130.7 1482.2,1135.7 1472.5,1140.8 C1462.8,1145.9 1453.0,1151.0 1443.3,1156.1 C1433.6,1161.2 1423.9,1166.3 1414.2,1171.4 C1404.5,1176.6 1394.8,1181.7 1385.1,1186.9 C1375.4,1192.1 1365.8,1197.4 1356.1,1202.6 C1346.5,1207.9 1336.9,1213.2 1327.3,1218.6 C1317.8,1224.0 1308.2,1229.4 1298.7,1234.9 C1289.3,1240.4 1279.8,1246.0 1270.4,1251.6 C1261.0,1257.2 1251.6,1262.9 1242.3,1268.7 C1233.0,1274.5 1223.7,1280.4 1214.5,1286.3 C1205.3,1292.3 1191.6,1301.5 1187.0,1304.5 L1187.0,1304.5 C1192.5,1306.0 1209.0,1310.7 1220.1,1313.3 C1231.2,1316.0 1242.3,1318.3 1253.5,1320.4 C1264.7,1322.5 1275.9,1324.4 1287.2,1326.1 C1298.4,1327.8 1309.7,1329.2 1321.1,1330.6 C1332.4,1331.9 1343.8,1333.1 1355.1,1334.2 C1366.5,1335.3 1377.9,1336.2 1389.3,1337.2 C1400.7,1338.1 1412.1,1338.9 1423.6,1339.8 C1435.0,1340.7 1446.4,1341.5 1457.8,1342.4 C1469.2,1343.3 1480.6,1344.2 1492.0,1345.2 C1503.4,1346.2 1514.7,1347.2 1526.1,1348.5 C1537.4,1349.7 1554.3,1351.8 1560.0,1352.5 L1560.0,1442.0 C1554.8,1441.4 1539.4,1439.6 1529.1,1438.4 C1518.8,1437.2 1508.5,1435.9 1498.2,1434.7 C1488.0,1433.4 1477.7,1432.1 1467.4,1430.8 C1457.2,1429.5 1446.9,1428.2 1436.7,1426.8 C1426.4,1425.5 1416.2,1424.2 1406.0,1422.8 C1395.7,1421.5 1385.5,1420.1 1375.2,1418.8 C1365.0,1417.4 1354.8,1416.1 1344.6,1414.8 C1334.3,1413.4 1324.1,1412.1 1313.9,1410.8 C1303.7,1409.5 1293.5,1408.2 1283.2,1406.9 C1273.0,1405.7 1262.8,1404.4 1252.6,1403.2 C1242.4,1402.0 1232.1,1400.8 1221.9,1399.6 C1211.7,1398.5 1201.5,1397.3 1191.2,1396.3 C1181.0,1395.2 1170.8,1394.1 1160.5,1393.1 C1150.3,1392.1 1140.0,1391.2 1129.8,1390.3 C1119.5,1389.4 1109.3,1388.5 1099.0,1387.8 C1088.8,1387.0 1078.5,1386.2 1068.2,1385.6 C1058.0,1384.9 1047.7,1384.3 1037.4,1383.8 C1027.1,1383.2 1016.8,1382.8 1006.5,1382.4 C996.2,1382.0 985.9,1381.7 975.5,1381.5 C965.2,1381.3 954.9,1381.1 944.5,1381.1 C934.2,1381.0 923.8,1381.1 913.4,1381.2 C903.0,1381.3 892.7,1381.6 882.3,1381.9 C871.9,1382.2 861.4,1382.7 851.0,1383.2 C840.6,1383.8 830.2,1384.5 819.8,1385.3 C809.4,1386.1 799.0,1387.0 788.7,1388.1 C778.3,1389.2 768.0,1390.5 757.7,1391.9 C747.4,1393.3 737.1,1394.9 726.9,1396.6 C716.7,1398.4 706.5,1400.3 696.4,1402.4 C686.3,1404.6 676.3,1406.9 666.3,1409.4 C656.3,1412.0 646.4,1414.7 636.6,1417.7 C626.8,1420.7 617.1,1423.9 607.4,1427.3 C597.8,1430.8 588.3,1434.4 578.8,1438.4 C569.4,1442.3 560.1,1446.5 550.9,1451.0 C541.7,1455.5 532.7,1460.3 523.9,1465.4 C515.1,1470.5 506.4,1475.9 498.1,1481.8 C489.7,1487.6 481.5,1493.8 473.6,1500.4 C465.8,1507.0 458.1,1513.9 450.9,1521.4 C443.6,1528.8 433.5,1541.1 430.0,1545.0 Z" fill="#ffb4a1"/>
<g clip-path="url(#ct)"><polygon points="42.5,566.5 158.9,494.9 266.0,432.0 361.2,525.0 447.1,626.6" fill="url(#tg0)"/><polygon points="-236.1,1001.4 -71.0,856.0 210.7,720.0 323.4,861.1 552.7,1011.6" fill="url(#tg1)"/><polygon points="-229.0,1190.5 -32.1,1071.1 143.0,1015.0 231.4,1173.1 298.0,1394.5" fill="url(#tg2)"/><polygon points="-326.3,1327.2 -83.7,1289.2 46.7,1271.7 120.3,1469.4 81.7,1687.6" fill="url(#tg3)"/><polygon points="-97.7,779.5 -39.6,615.7 8.0,606.7 62.4,619.1 106.3,786.3" fill="url(#tg4)"/><polygon points="351.1,520.2 514.8,533.9 551.7,573.0 531.8,621.8 385.1,696.0" fill="url(#tg5)"/><polygon points="623.7,457.8 758.4,486.9 815.0,535.0 781.0,597.4 668.9,678.8" fill="url(#tg6)"/><polygon points="933.8,491.3 1071.8,492.5 1108.0,527.0 1088.8,562.7 967.8,631.7" fill="url(#tg7)"/><polygon points="1212.0,452.0 1360.1,491.2 1389.0,532.0 1360.1,570.6 1212.0,610.7" fill="url(#tg8)"/><polygon points="826.4,435.5 883.2,425.9 924.0,431.0 924.0,471.8 908.0,527.3" fill="url(#tg9)"/></g>
<g clip-path="url(#cb)"><polygon points="232.3,1346.9 381.3,1349.0 511.7,1400.0 496.9,1507.1 463.5,1663.1" fill="url(#bg0)"/><polygon points="578.1,1224.8 729.9,1266.3 803.0,1336.0 758.3,1410.8 634.8,1513.8" fill="url(#bg1)"/><polygon points="898.4,1165.5 1020.0,1236.7 1105.0,1321.7 1045.5,1415.2 949.4,1522.5" fill="url(#bg2)"/><polygon points="1136.4,1163.1 1237.1,1160.3 1300.0,1188.0 1288.1,1247.5 1238.4,1337.6" fill="url(#bg3)"/><polygon points="1330.2,1070.5 1412.2,1071.2 1471.7,1096.7 1460.3,1149.9 1426.4,1227.9" fill="url(#bg4)"/><polygon points="1263.7,1246.1 1374.9,1323.4 1406.7,1380.0 1355.7,1431.0 1225.3,1461.4" fill="url(#bg5)"/></g>
<g clip-path="url(#ct)"><g transform="translate(295.5,456.0) rotate(-4.0)"><ellipse cx="2.3" cy="0" rx="16.8" ry="24.0" fill="#c9382f"/><ellipse cx="-4.3" cy="0" rx="14.8" ry="23.5" fill="#ab1e1e"/><ellipse cx="-5.8" cy="0" rx="6.6" ry="10.6" fill="#6e171c"/></g><g transform="translate(238.0,554.0) rotate(3.0)"><ellipse cx="-2.3" cy="0" rx="16.8" ry="24.0" fill="#c9382f"/><ellipse cx="4.3" cy="0" rx="14.8" ry="23.5" fill="#ab1e1e"/><ellipse cx="5.8" cy="0" rx="6.6" ry="10.6" fill="#6e171c"/></g><g transform="translate(192.5,661.0) rotate(5.0)"><ellipse cx="2.4" cy="0" rx="17.2" ry="24.0" fill="#c9382f"/><ellipse cx="-4.4" cy="0" rx="15.2" ry="23.5" fill="#ab1e1e"/><ellipse cx="-6.0" cy="0" rx="6.8" ry="10.6" fill="#6e171c"/></g><g transform="translate(299.0,645.0) rotate(-18.0)"><ellipse cy="-1.9" cx="0" ry="13.8" rx="19.0" fill="#c9382f"/><ellipse cy="3.5" cx="0" ry="12.2" rx="18.5" fill="#ab1e1e"/><ellipse cy="4.8" cx="0" ry="5.4" rx="8.4" fill="#6e171c"/></g><g transform="translate(0.5,589.0) rotate(0.0)"><ellipse cx="-2.0" cy="0" rx="14.2" ry="20.0" fill="#c9382f"/><ellipse cx="3.6" cy="0" rx="12.5" ry="19.5" fill="#ab1e1e"/><ellipse cx="5.0" cy="0" rx="5.6" ry="8.8" fill="#6e171c"/></g><g transform="translate(38.0,663.5) rotate(-5.0)"><ellipse cx="-1.9" cy="0" rx="13.3" ry="18.5" fill="#c9382f"/><ellipse cx="3.4" cy="0" rx="11.8" ry="18.0" fill="#ab1e1e"/><ellipse cx="4.7" cy="0" rx="5.3" ry="8.1" fill="#6e171c"/></g><g transform="translate(50.0,746.0) rotate(-12.0)"><ellipse cx="1.9" cy="0" rx="13.8" ry="18.5" fill="#c9382f"/><ellipse cx="-3.5" cy="0" rx="12.2" ry="18.0" fill="#ab1e1e"/><ellipse cx="-4.8" cy="0" rx="5.4" ry="8.1" fill="#6e171c"/></g><g transform="translate(232.0,770.7) rotate(8.0)"><ellipse cx="-2.4" cy="0" rx="17.2" ry="24.0" fill="#c9382f"/><ellipse cx="4.4" cy="0" rx="15.2" ry="23.5" fill="#ab1e1e"/><ellipse cx="6.0" cy="0" rx="6.8" ry="10.6" fill="#6e171c"/></g><g transform="translate(96.0,817.0) rotate(-15.0)"><ellipse cx="2.5" cy="0" rx="17.6" ry="24.0" fill="#c9382f"/><ellipse cx="-4.5" cy="0" rx="15.6" ry="23.5" fill="#ab1e1e"/><ellipse cx="-6.2" cy="0" rx="7.0" ry="10.6" fill="#6e171c"/></g><g transform="translate(190.7,898.0) rotate(3.0)"><ellipse cx="2.3" cy="0" rx="16.8" ry="24.0" fill="#c9382f"/><ellipse cx="-4.3" cy="0" rx="14.8" ry="23.5" fill="#ab1e1e"/><ellipse cx="-5.8" cy="0" rx="6.6" ry="10.6" fill="#6e171c"/></g><g transform="translate(110.7,938.7) rotate(5.0)"><ellipse cx="-2.4" cy="0" rx="17.2" ry="24.0" fill="#c9382f"/><ellipse cx="4.4" cy="0" rx="15.2" ry="23.5" fill="#ab1e1e"/><ellipse cx="6.0" cy="0" rx="6.8" ry="10.6" fill="#6e171c"/></g><g transform="translate(171.0,1029.0) rotate(8.0)"><ellipse cx="2.3" cy="0" rx="16.3" ry="24.0" fill="#c9382f"/><ellipse cx="-4.2" cy="0" rx="14.4" ry="23.5" fill="#ab1e1e"/><ellipse cx="-5.7" cy="0" rx="6.5" ry="10.6" fill="#6e171c"/></g><g transform="translate(74.0,1080.0) rotate(5.0)"><ellipse cx="2.3" cy="0" rx="16.3" ry="24.0" fill="#c9382f"/><ellipse cx="-4.2" cy="0" rx="14.4" ry="23.5" fill="#ab1e1e"/><ellipse cx="-5.7" cy="0" rx="6.5" ry="10.6" fill="#6e171c"/></g><g transform="translate(104.7,1201.7) rotate(3.0)"><ellipse cx="-2.3" cy="0" rx="16.3" ry="24.0" fill="#c9382f"/><ellipse cx="4.2" cy="0" rx="14.4" ry="23.5" fill="#ab1e1e"/><ellipse cx="5.7" cy="0" rx="6.5" ry="10.6" fill="#6e171c"/></g><g transform="translate(64.0,1326.7) rotate(8.0)"><ellipse cx="2.4" cy="0" rx="17.2" ry="24.0" fill="#c9382f"/><ellipse cx="-4.4" cy="0" rx="15.2" ry="23.5" fill="#ab1e1e"/><ellipse cx="-6.0" cy="0" rx="6.8" ry="10.6" fill="#6e171c"/></g><g transform="translate(16.7,1471.7) rotate(20.0)"><ellipse cx="2.6" cy="0" rx="18.5" ry="24.0" fill="#c9382f"/><ellipse cx="-4.7" cy="0" rx="16.3" ry="23.5" fill="#ab1e1e"/><ellipse cx="-6.4" cy="0" rx="7.3" ry="10.6" fill="#6e171c"/></g><g transform="translate(-8.0,1283.0) rotate(0.0)"><ellipse cx="1.6" cy="0" rx="11.2" ry="17.0" fill="#c9382f"/><ellipse cx="-2.9" cy="0" rx="9.9" ry="16.5" fill="#ab1e1e"/><ellipse cx="-3.9" cy="0" rx="4.4" ry="7.5" fill="#6e171c"/></g><g transform="translate(510.7,573.0) rotate(-3.0)"><ellipse cy="-1.8" cx="0" ry="12.9" rx="19.0" fill="#c9382f"/><ellipse cy="3.3" cx="0" ry="11.4" rx="18.5" fill="#ab1e1e"/><ellipse cy="4.5" cx="0" ry="5.1" rx="8.4" fill="#6e171c"/></g><g transform="translate(410.0,610.7) rotate(-15.0)"><ellipse cy="1.9" cx="0" ry="13.8" rx="19.0" fill="#c9382f"/><ellipse cy="-3.5" cx="0" ry="12.2" rx="18.5" fill="#ab1e1e"/><ellipse cy="-4.8" cx="0" ry="5.4" rx="8.4" fill="#6e171c"/></g><g transform="translate(652.0,567.0) rotate(0.0)"><ellipse cy="1.8" cx="0" ry="12.9" rx="19.0" fill="#c9382f"/><ellipse cy="-3.3" cx="0" ry="11.4" rx="18.5" fill="#ab1e1e"/><ellipse cy="-4.5" cx="0" ry="5.1" rx="8.4" fill="#6e171c"/></g><g transform="translate(769.0,546.0) rotate(-25.0)"><ellipse cy="-2.0" cx="0" ry="14.2" rx="19.0" fill="#c9382f"/><ellipse cy="3.6" cx="0" ry="12.5" rx="18.5" fill="#ab1e1e"/><ellipse cy="5.0" cx="0" ry="5.6" rx="8.4" fill="#6e171c"/></g><g transform="translate(867.0,478.0) rotate(20.0)"><ellipse cx="-1.6" cy="0" rx="11.6" ry="14.5" fill="#c9382f"/><ellipse cx="3.0" cy="0" rx="10.3" ry="14.0" fill="#ab1e1e"/><ellipse cx="4.0" cy="0" rx="4.6" ry="6.4" fill="#6e171c"/></g><g transform="translate(896.0,537.0) rotate(-3.0)"><ellipse cy="-1.8" cx="0" ry="12.9" rx="19.0" fill="#c9382f"/><ellipse cy="3.3" cx="0" ry="11.4" rx="18.5" fill="#ab1e1e"/><ellipse cy="4.5" cx="0" ry="5.1" rx="8.4" fill="#6e171c"/></g><g transform="translate(1033.0,531.0) rotate(3.0)"><ellipse cy="1.8" cx="0" ry="12.9" rx="19.0" fill="#c9382f"/><ellipse cy="-3.3" cx="0" ry="11.4" rx="18.5" fill="#ab1e1e"/><ellipse cy="-4.5" cx="0" ry="5.1" rx="8.4" fill="#6e171c"/></g><g transform="translate(1146.7,520.8) rotate(0.0)"><ellipse cy="1.3" cx="0" ry="9.0" rx="13.5" fill="#c9382f"/><ellipse cy="-2.3" cx="0" ry="8.0" rx="13.0" fill="#ab1e1e"/><ellipse cy="-3.1" cx="0" ry="3.6" rx="5.9" fill="#6e171c"/></g><g transform="translate(1224.8,531.5) rotate(3.0)"><ellipse cy="1.4" cx="0" ry="9.9" rx="14.0" fill="#c9382f"/><ellipse cy="-2.5" cx="0" ry="8.7" rx="13.5" fill="#ab1e1e"/><ellipse cy="-3.5" cx="0" ry="3.9" rx="6.2" fill="#6e171c"/></g><g transform="translate(1314.0,523.0) rotate(0.0)"><ellipse cy="-1.4" cx="0" ry="9.9" rx="14.0" fill="#c9382f"/><ellipse cy="2.5" cx="0" ry="8.7" rx="13.5" fill="#ab1e1e"/><ellipse cy="3.5" cx="0" ry="3.9" rx="6.2" fill="#6e171c"/></g><g transform="translate(1408.0,538.7) rotate(3.0)"><ellipse cy="1.4" cx="0" ry="9.9" rx="14.0" fill="#c9382f"/><ellipse cy="-2.5" cx="0" ry="8.7" rx="13.5" fill="#ab1e1e"/><ellipse cy="-3.5" cx="0" ry="3.9" rx="6.2" fill="#6e171c"/></g><g transform="translate(1489.0,541.0) rotate(3.0)"><ellipse cy="1.4" cx="0" ry="9.9" rx="14.0" fill="#c9382f"/><ellipse cy="-2.5" cx="0" ry="8.7" rx="13.5" fill="#ab1e1e"/><ellipse cy="-3.5" cx="0" ry="3.9" rx="6.2" fill="#6e171c"/></g><g transform="translate(944.0,424.0) rotate(-10.0)"><ellipse cy="1.4" cx="0" ry="10.3" rx="14.0" fill="#c9382f"/><ellipse cy="-2.6" cx="0" ry="9.1" rx="13.5" fill="#ab1e1e"/><ellipse cy="-3.6" cx="0" ry="4.1" rx="6.2" fill="#6e171c"/></g></g>
<g clip-path="url(#cb)"><g transform="translate(360.0,1448.0) rotate(-20.0)"><ellipse cy="2.5" cx="0" ry="18.1" rx="23.5" fill="#c9382f"/><ellipse cy="-4.6" cx="0" ry="16.0" rx="23.0" fill="#ab1e1e"/><ellipse cy="-6.3" cx="0" ry="7.1" rx="10.3" fill="#6e171c"/></g><g transform="translate(498.0,1437.0) rotate(-12.0)"><ellipse cy="-2.4" cx="0" ry="17.2" rx="24.0" fill="#c9382f"/><ellipse cy="4.4" cx="0" ry="15.2" rx="23.5" fill="#ab1e1e"/><ellipse cy="6.0" cx="0" ry="6.8" rx="10.6" fill="#6e171c"/></g><g transform="translate(589.0,1359.0) rotate(-20.0)"><ellipse cy="2.5" cx="0" ry="18.1" rx="23.5" fill="#c9382f"/><ellipse cy="-4.6" cx="0" ry="16.0" rx="23.0" fill="#ab1e1e"/><ellipse cy="-6.3" cx="0" ry="7.1" rx="10.3" fill="#6e171c"/></g><g transform="translate(745.0,1345.0) rotate(-12.0)"><ellipse cy="-2.4" cx="0" ry="17.2" rx="24.0" fill="#c9382f"/><ellipse cy="4.4" cx="0" ry="15.2" rx="23.5" fill="#ab1e1e"/><ellipse cy="6.0" cx="0" ry="6.8" rx="10.6" fill="#6e171c"/></g><g transform="translate(899.0,1342.7) rotate(0.0)"><ellipse cy="2.3" cx="0" ry="16.3" rx="24.0" fill="#c9382f"/><ellipse cy="-4.2" cx="0" ry="14.4" rx="23.5" fill="#ab1e1e"/><ellipse cy="-5.7" cx="0" ry="6.5" rx="10.6" fill="#6e171c"/></g><g transform="translate(1080.0,1299.0) rotate(-22.0)"><ellipse cy="-2.5" cx="0" ry="18.1" rx="23.5" fill="#c9382f"/><ellipse cy="4.6" cx="0" ry="16.0" rx="23.0" fill="#ab1e1e"/><ellipse cy="6.3" cx="0" ry="7.1" rx="10.3" fill="#6e171c"/></g><g transform="translate(1156.0,1251.7) rotate(-22.0)"><ellipse cy="-1.9" cx="0" ry="13.8" rx="18.5" fill="#c9382f"/><ellipse cy="3.5" cx="0" ry="12.2" rx="18.0" fill="#ab1e1e"/><ellipse cy="4.8" cx="0" ry="5.4" rx="8.1" fill="#6e171c"/></g><g transform="translate(1266.0,1214.0) rotate(-20.0)"><ellipse cy="1.9" cx="0" ry="13.8" rx="18.5" fill="#c9382f"/><ellipse cy="-3.5" cx="0" ry="12.2" rx="18.0" fill="#ab1e1e"/><ellipse cy="-4.8" cx="0" ry="5.4" rx="8.1" fill="#6e171c"/></g><g transform="translate(1350.0,1145.7) rotate(-22.0)"><ellipse cy="-1.9" cx="0" ry="13.8" rx="18.5" fill="#c9382f"/><ellipse cy="3.5" cx="0" ry="12.2" rx="18.0" fill="#ab1e1e"/><ellipse cy="4.8" cx="0" ry="5.4" rx="8.1" fill="#6e171c"/></g><g transform="translate(1437.7,1118.0) rotate(-22.0)"><ellipse cy="1.9" cx="0" ry="13.8" rx="18.5" fill="#c9382f"/><ellipse cy="-3.5" cx="0" ry="12.2" rx="18.0" fill="#ab1e1e"/><ellipse cy="-4.8" cx="0" ry="5.4" rx="8.1" fill="#6e171c"/></g><g transform="translate(1503.0,1063.0) rotate(-22.0)"><ellipse cy="-1.7" cx="0" ry="12.0" rx="15.0" fill="#c9382f"/><ellipse cy="3.1" cx="0" ry="10.6" rx="14.5" fill="#ab1e1e"/><ellipse cy="4.2" cx="0" ry="4.8" rx="6.6" fill="#6e171c"/></g><g transform="translate(1161.7,1342.0) rotate(3.0)"><ellipse cy="-1.8" cx="0" ry="12.9" rx="18.5" fill="#c9382f"/><ellipse cy="3.3" cx="0" ry="11.4" rx="18.0" fill="#ab1e1e"/><ellipse cy="4.5" cx="0" ry="5.1" rx="8.1" fill="#6e171c"/></g><g transform="translate(1257.0,1372.7) rotate(3.0)"><ellipse cy="1.8" cx="0" ry="12.9" rx="18.5" fill="#c9382f"/><ellipse cy="-3.3" cx="0" ry="11.4" rx="18.0" fill="#ab1e1e"/><ellipse cy="-4.5" cx="0" ry="5.1" rx="8.1" fill="#6e171c"/></g><g transform="translate(1361.0,1366.7) rotate(5.0)"><ellipse cy="-1.8" cx="0" ry="12.9" rx="18.5" fill="#c9382f"/><ellipse cy="3.3" cx="0" ry="11.4" rx="18.0" fill="#ab1e1e"/><ellipse cy="4.5" cx="0" ry="5.1" rx="8.1" fill="#6e171c"/></g><g transform="translate(1456.7,1396.7) rotate(5.0)"><ellipse cy="1.8" cx="0" ry="12.9" rx="18.5" fill="#c9382f"/><ellipse cy="-3.3" cx="0" ry="11.4" rx="18.0" fill="#ab1e1e"/><ellipse cy="-4.5" cx="0" ry="5.1" rx="8.1" fill="#6e171c"/></g></g>
<path d="M-30.0,330.0 C-28.6,335.5 -24.4,351.8 -21.5,362.8 C-18.7,373.7 -15.9,384.6 -13.0,395.5 C-10.1,406.5 -7.3,417.4 -4.4,428.3 C-1.4,439.2 1.5,450.1 4.5,461.0 C7.5,471.9 10.5,482.8 13.6,493.6 C16.7,504.5 19.9,515.3 23.1,526.2 C26.4,537.0 29.7,547.8 33.0,558.5 C36.4,569.3 39.9,580.1 43.5,590.8 C47.0,601.5 50.7,612.1 54.5,622.8 C58.2,633.4 62.1,644.0 66.1,654.5 C70.1,665.1 74.2,675.6 78.5,686.1 C82.8,696.5 89.5,712.1 91.7,717.3 C99.0,735.0 104.5,743.8 111.0,743.8 C117.5,743.8 124.0,735.0 131.9,717.3 L131.9,717.3 C133.8,712.0 139.6,696.2 143.0,685.6 C146.5,675.0 149.6,664.2 152.6,653.5 C155.6,642.7 158.3,631.8 160.9,621.0 C163.5,610.1 165.9,599.2 168.2,588.2 C170.5,577.2 172.6,566.2 174.7,555.2 C176.8,544.2 178.7,533.2 180.7,522.1 C182.6,511.1 184.5,500.0 186.5,489.0 C188.4,477.9 190.3,466.9 192.3,455.9 C194.2,444.8 196.2,433.8 198.4,422.8 C200.5,411.9 203.9,395.5 205.0,390.0 L346.0,390.0 C345.3,395.0 343.6,406.2 341.6,420.0 C339.6,433.8 335.9,457.5 334.0,473.0 C332.1,488.5 331.0,506.3 330.4,513.0 C329.5,540.0 332.0,552.0 350.0,552.0 L350.0,552.0 C355.3,551.7 371.3,551.0 381.9,550.4 C392.5,549.7 403.1,549.0 413.6,548.3 C424.2,547.5 434.8,546.7 445.3,545.9 C455.9,545.0 466.4,544.1 476.9,543.1 C487.5,542.2 498.0,541.2 508.6,540.2 C519.2,539.1 529.7,538.1 540.3,537.0 C550.9,535.9 561.5,534.9 572.1,533.8 C582.7,532.6 593.4,531.5 604.0,530.3 C614.6,529.1 625.2,527.9 635.8,526.4 C646.4,525.0 657.0,523.4 667.5,521.6 C678.0,519.9 688.4,517.9 698.8,515.7 C709.1,513.4 719.5,510.9 729.6,508.1 C739.8,505.3 749.9,502.1 759.8,498.6 C769.8,495.1 779.6,491.2 789.2,487.0 C798.9,482.7 808.4,478.1 817.7,473.1 C826.9,468.1 836.1,462.7 844.9,457.0 C853.8,451.2 862.4,445.1 870.8,438.5 C879.2,432.0 887.4,425.1 895.2,417.8 C903.1,410.6 914.2,398.8 918.0,395.0 L1022.0,395.0 C1000.3,412.4 913.7,482.1 892.0,499.5 L892.0,499.5 C897.3,499.4 913.2,499.2 923.8,499.1 C934.4,498.9 945.0,498.7 955.7,498.5 C966.3,498.3 976.9,498.1 987.5,497.9 C998.1,497.7 1008.7,497.5 1019.4,497.3 C1030.0,497.1 1040.6,496.9 1051.2,496.7 C1061.9,496.5 1072.5,496.3 1083.1,496.1 C1093.8,496.0 1104.4,495.8 1115.0,495.7 C1125.6,495.6 1136.3,495.4 1146.9,495.4 C1157.5,495.3 1168.2,495.2 1178.8,495.2 C1189.4,495.2 1200.0,495.2 1210.7,495.3 C1221.3,495.3 1231.9,495.4 1242.5,495.5 C1253.1,495.7 1263.8,495.9 1274.4,496.1 C1285.0,496.4 1295.6,496.6 1306.2,497.0 C1316.8,497.4 1327.4,497.8 1338.0,498.2 C1348.6,498.7 1359.2,499.3 1369.8,499.9 C1380.4,500.5 1391.0,501.2 1401.6,501.9 C1412.2,502.7 1422.8,503.5 1433.4,504.5 C1443.9,505.4 1454.5,506.4 1465.1,507.5 C1475.6,508.6 1486.2,509.8 1496.8,511.1 C1507.3,512.4 1517.9,513.7 1528.4,515.2 C1538.9,516.7 1554.7,519.2 1560.0,520.0 L1560.0,587.0 C1554.9,586.1 1539.8,583.3 1529.7,581.5 C1519.6,579.8 1509.5,578.2 1499.4,576.7 C1489.3,575.1 1479.2,573.7 1469.1,572.3 C1458.9,571.0 1448.8,569.7 1438.7,568.5 C1428.6,567.3 1418.5,566.3 1408.4,565.2 C1398.3,564.2 1388.2,563.3 1378.1,562.4 C1368.0,561.6 1357.9,560.8 1347.8,560.1 C1337.7,559.4 1327.6,558.8 1317.5,558.3 C1307.4,557.7 1297.3,557.3 1287.2,556.9 C1277.1,556.4 1267.0,556.1 1256.9,555.8 C1246.8,555.6 1236.7,555.4 1226.6,555.3 C1216.4,555.1 1206.3,555.0 1196.2,555.0 C1186.1,555.0 1176.0,555.1 1165.9,555.2 C1155.8,555.3 1145.7,555.5 1135.6,555.7 C1125.5,555.9 1115.4,556.2 1105.3,556.5 C1095.1,556.8 1085.0,557.2 1074.9,557.6 C1064.8,558.1 1054.7,558.6 1044.6,559.1 C1034.5,559.6 1024.4,560.2 1014.2,560.8 C1004.1,561.4 994.0,562.0 983.9,562.7 C973.8,563.4 963.7,564.1 953.5,564.9 C943.4,565.7 933.3,566.5 923.2,567.3 C913.0,568.2 902.9,569.0 892.8,569.9 C882.7,570.8 872.5,571.8 862.4,572.7 C852.3,573.7 842.2,574.6 832.0,575.7 C821.9,576.7 811.8,577.7 801.6,578.7 C791.5,579.8 781.4,580.9 771.2,582.0 C761.1,583.0 750.9,584.2 740.8,585.3 C730.7,586.4 720.5,587.5 710.4,588.7 C700.2,589.8 690.1,591.0 679.9,592.2 C669.8,593.4 659.6,594.6 649.5,595.8 C639.4,597.1 629.3,598.4 619.2,599.8 C609.1,601.2 599.0,602.7 589.0,604.3 C578.9,605.9 568.9,607.6 558.9,609.5 C549.0,611.4 539.0,613.3 529.1,615.5 C519.2,617.7 509.4,620.0 499.6,622.5 C489.8,625.0 480.1,627.7 470.4,630.7 C460.8,633.6 451.2,636.8 441.6,640.2 C432.1,643.6 422.7,647.3 413.3,651.2 C403.9,655.2 394.5,659.3 385.5,663.9 C376.4,668.5 367.4,673.4 359.0,678.9 C350.7,684.4 342.6,690.3 335.5,697.1 C328.4,703.8 322.0,711.3 316.4,719.4 C310.9,727.5 306.3,736.5 302.2,745.7 C298.1,754.9 294.8,764.7 291.8,774.5 C288.8,784.3 286.4,794.4 284.0,804.5 C281.6,814.6 279.6,824.9 277.5,835.0 C275.3,845.2 273.2,855.3 270.9,865.3 C268.7,875.3 266.3,885.2 263.9,895.1 C261.4,905.0 258.9,914.7 256.3,924.5 C253.8,934.3 251.1,944.0 248.5,953.7 C245.9,963.4 243.2,973.1 240.5,982.8 C237.9,992.5 235.2,1002.2 232.5,1011.9 C229.9,1021.7 227.2,1031.4 224.6,1041.2 C222.0,1050.9 219.3,1060.7 216.6,1070.5 C214.0,1080.3 211.3,1090.1 208.6,1099.9 C205.9,1109.7 203.2,1119.5 200.4,1129.3 C197.7,1139.0 194.9,1148.8 192.0,1158.6 C189.1,1168.4 186.3,1178.1 183.3,1187.9 C180.3,1197.6 177.3,1207.3 174.2,1217.0 C171.1,1226.7 167.9,1236.3 164.7,1246.0 C161.4,1255.6 158.1,1265.2 154.6,1274.8 C151.2,1284.3 147.6,1293.8 144.0,1303.3 C140.3,1312.8 136.6,1322.2 132.7,1331.6 C128.8,1341.0 124.8,1350.3 120.7,1359.5 C116.6,1368.8 112.3,1378.0 107.9,1387.1 C103.5,1396.3 99.0,1405.4 94.4,1414.5 C89.9,1423.5 85.2,1432.6 80.5,1441.6 C75.9,1450.6 71.1,1459.6 66.4,1468.6 C61.7,1477.6 57.0,1486.6 52.3,1495.6 C47.7,1504.6 43.0,1513.6 38.4,1522.7 C33.9,1531.8 27.2,1545.5 25.0,1550.0 L-60.0,1550.0 C-64.0,1543.7 -77.3,1524.4 -84.0,1512.2 C-90.7,1500.0 -95.9,1488.2 -100.0,1476.6 C-104.2,1465.1 -107.0,1454.0 -108.9,1443.0 C-110.8,1432.1 -111.6,1421.5 -111.6,1411.1 C-111.6,1400.7 -110.6,1390.6 -109.0,1380.6 C-107.4,1370.6 -104.9,1360.9 -102.0,1351.3 C-99.1,1341.7 -95.5,1332.2 -91.5,1322.9 C-87.6,1313.5 -83.2,1304.3 -78.5,1295.1 C-73.9,1285.9 -68.9,1276.8 -63.9,1267.7 C-58.9,1258.6 -53.6,1249.5 -48.5,1240.4 C-43.4,1231.3 -38.2,1222.2 -33.3,1213.0 C-28.4,1203.8 -23.6,1194.6 -19.1,1185.2 C-14.6,1175.8 -10.4,1166.4 -6.3,1156.9 C-2.3,1147.3 1.5,1137.7 5.2,1128.0 C8.9,1118.3 12.3,1108.5 15.7,1098.7 C19.0,1088.8 22.2,1078.8 25.3,1068.8 C28.4,1058.8 31.4,1048.7 34.1,1038.5 C36.9,1028.4 39.6,1018.1 42.0,1007.9 C44.3,997.6 46.5,987.3 48.3,977.0 C50.1,966.7 51.6,956.4 52.7,946.1 C53.8,935.7 54.5,925.4 54.7,915.1 C55.0,904.9 54.8,894.6 54.0,884.4 C53.2,874.2 51.9,864.1 50.1,854.0 C48.3,843.9 45.8,833.9 43.1,823.9 C40.4,813.9 37.2,803.9 34.0,794.0 C30.7,784.0 27.1,774.1 23.6,764.2 C20.1,754.3 16.3,744.4 12.8,734.4 C9.3,724.5 5.8,714.5 2.6,704.5 C-0.6,694.5 -3.6,684.5 -6.2,674.4 C-8.8,664.3 -10.8,654.1 -12.9,644.0 C-15.0,633.8 -16.6,623.6 -18.8,613.5 C-21.0,603.4 -23.1,593.3 -26.1,583.4 C-29.2,573.5 -32.5,563.7 -37.0,554.1 C-41.6,544.5 -47.6,535.2 -53.5,525.8 C-59.4,516.5 -67.1,507.5 -72.4,498.0 C-77.8,488.5 -83.5,479.1 -85.5,468.9 C-87.5,458.7 -88.4,448.3 -84.2,436.8 C-79.9,425.3 -64.0,406.1 -60.0,400.0 Z" fill="none" stroke="url(#strk)" stroke-width="16" stroke-linejoin="round"/>
<path d="M150.0,1540.0 C154.0,1536.4 165.8,1525.5 173.8,1518.5 C181.9,1511.5 190.1,1504.7 198.3,1498.0 C206.6,1491.3 215.0,1484.8 223.6,1478.4 C232.1,1472.0 240.7,1465.8 249.4,1459.7 C258.1,1453.7 267.0,1447.7 275.9,1442.0 C284.8,1436.2 293.8,1430.6 302.9,1425.2 C312.0,1419.7 321.2,1414.4 330.5,1409.3 C339.8,1404.2 349.2,1399.2 358.6,1394.3 C368.0,1389.5 377.6,1384.8 387.2,1380.3 C396.8,1375.8 406.4,1371.4 416.2,1367.2 C425.9,1363.0 435.7,1358.9 445.6,1355.0 C455.5,1351.1 465.4,1347.4 475.4,1343.8 C485.4,1340.2 495.5,1336.8 505.6,1333.5 C515.7,1330.2 525.8,1327.1 536.0,1324.1 C546.2,1321.1 556.5,1318.3 566.7,1315.6 C577.0,1312.9 587.4,1310.4 597.7,1308.0 C608.1,1305.7 618.5,1303.5 628.9,1301.4 C639.3,1299.4 649.8,1297.5 660.3,1295.7 C670.7,1293.9 681.2,1292.3 691.8,1290.9 C702.3,1289.4 712.8,1288.0 723.4,1286.8 C734.0,1285.5 744.5,1284.4 755.1,1283.4 C765.7,1282.4 776.3,1281.5 787.0,1280.7 C797.6,1279.8 808.2,1279.1 818.8,1278.4 C829.5,1277.8 840.1,1277.2 850.7,1276.7 C861.4,1276.1 872.0,1275.7 882.7,1275.2 C893.3,1274.8 903.9,1274.5 914.6,1274.1 C925.2,1273.8 935.8,1273.5 946.4,1273.2 C957.1,1272.9 967.7,1272.6 978.3,1272.3 C988.9,1272.0 1004.7,1271.6 1010.0,1271.5 C1030.0,1270.5 1045.0,1264.0 1066.7,1253.0 L1066.7,1253.0 C1071.6,1250.7 1086.2,1243.6 1095.9,1239.0 C1105.6,1234.3 1115.3,1229.6 1125.0,1224.9 C1134.7,1220.1 1144.4,1215.4 1154.1,1210.7 C1163.8,1206.0 1173.5,1201.2 1183.2,1196.5 C1192.9,1191.7 1202.6,1187.0 1212.3,1182.2 C1222.0,1177.5 1231.6,1172.7 1241.3,1167.9 C1251.0,1163.1 1260.7,1158.4 1270.3,1153.6 C1280.0,1148.8 1289.7,1144.0 1299.3,1139.2 C1309.0,1134.4 1318.7,1129.6 1328.3,1124.8 C1338.0,1120.0 1347.7,1115.2 1357.3,1110.4 C1367.0,1105.5 1376.6,1100.7 1386.3,1095.9 C1395.9,1091.1 1405.6,1086.3 1415.2,1081.4 C1424.9,1076.6 1434.5,1071.8 1444.2,1066.9 C1453.8,1062.1 1463.5,1057.3 1473.1,1052.5 C1482.8,1047.6 1492.4,1042.8 1502.1,1038.0 C1511.7,1033.1 1521.4,1028.3 1531.0,1023.5 C1540.7,1018.7 1555.2,1011.4 1560.0,1009.0 L1560.0,1095.0 C1555.1,1097.6 1540.6,1105.2 1530.9,1110.3 C1521.2,1115.4 1511.4,1120.5 1501.7,1125.6 C1492.0,1130.7 1482.2,1135.7 1472.5,1140.8 C1462.8,1145.9 1453.0,1151.0 1443.3,1156.1 C1433.6,1161.2 1423.9,1166.3 1414.2,1171.4 C1404.5,1176.6 1394.8,1181.7 1385.1,1186.9 C1375.4,1192.1 1365.8,1197.4 1356.1,1202.6 C1346.5,1207.9 1336.9,1213.2 1327.3,1218.6 C1317.8,1224.0 1308.2,1229.4 1298.7,1234.9 C1289.3,1240.4 1279.8,1246.0 1270.4,1251.6 C1261.0,1257.2 1251.6,1262.9 1242.3,1268.7 C1233.0,1274.5 1223.7,1280.4 1214.5,1286.3 C1205.3,1292.3 1191.6,1301.5 1187.0,1304.5 L1187.0,1304.5 C1192.5,1306.0 1209.0,1310.7 1220.1,1313.3 C1231.2,1316.0 1242.3,1318.3 1253.5,1320.4 C1264.7,1322.5 1275.9,1324.4 1287.2,1326.1 C1298.4,1327.8 1309.7,1329.2 1321.1,1330.6 C1332.4,1331.9 1343.8,1333.1 1355.1,1334.2 C1366.5,1335.3 1377.9,1336.2 1389.3,1337.2 C1400.7,1338.1 1412.1,1338.9 1423.6,1339.8 C1435.0,1340.7 1446.4,1341.5 1457.8,1342.4 C1469.2,1343.3 1480.6,1344.2 1492.0,1345.2 C1503.4,1346.2 1514.7,1347.2 1526.1,1348.5 C1537.4,1349.7 1554.3,1351.8 1560.0,1352.5 L1560.0,1442.0 C1554.8,1441.4 1539.4,1439.6 1529.1,1438.4 C1518.8,1437.2 1508.5,1435.9 1498.2,1434.7 C1488.0,1433.4 1477.7,1432.1 1467.4,1430.8 C1457.2,1429.5 1446.9,1428.2 1436.7,1426.8 C1426.4,1425.5 1416.2,1424.2 1406.0,1422.8 C1395.7,1421.5 1385.5,1420.1 1375.2,1418.8 C1365.0,1417.4 1354.8,1416.1 1344.6,1414.8 C1334.3,1413.4 1324.1,1412.1 1313.9,1410.8 C1303.7,1409.5 1293.5,1408.2 1283.2,1406.9 C1273.0,1405.7 1262.8,1404.4 1252.6,1403.2 C1242.4,1402.0 1232.1,1400.8 1221.9,1399.6 C1211.7,1398.5 1201.5,1397.3 1191.2,1396.3 C1181.0,1395.2 1170.8,1394.1 1160.5,1393.1 C1150.3,1392.1 1140.0,1391.2 1129.8,1390.3 C1119.5,1389.4 1109.3,1388.5 1099.0,1387.8 C1088.8,1387.0 1078.5,1386.2 1068.2,1385.6 C1058.0,1384.9 1047.7,1384.3 1037.4,1383.8 C1027.1,1383.2 1016.8,1382.8 1006.5,1382.4 C996.2,1382.0 985.9,1381.7 975.5,1381.5 C965.2,1381.3 954.9,1381.1 944.5,1381.1 C934.2,1381.0 923.8,1381.1 913.4,1381.2 C903.0,1381.3 892.7,1381.6 882.3,1381.9 C871.9,1382.2 861.4,1382.7 851.0,1383.2 C840.6,1383.8 830.2,1384.5 819.8,1385.3 C809.4,1386.1 799.0,1387.0 788.7,1388.1 C778.3,1389.2 768.0,1390.5 757.7,1391.9 C747.4,1393.3 737.1,1394.9 726.9,1396.6 C716.7,1398.4 706.5,1400.3 696.4,1402.4 C686.3,1404.6 676.3,1406.9 666.3,1409.4 C656.3,1412.0 646.4,1414.7 636.6,1417.7 C626.8,1420.7 617.1,1423.9 607.4,1427.3 C597.8,1430.8 588.3,1434.4 578.8,1438.4 C569.4,1442.3 560.1,1446.5 550.9,1451.0 C541.7,1455.5 532.7,1460.3 523.9,1465.4 C515.1,1470.5 506.4,1475.9 498.1,1481.8 C489.7,1487.6 481.5,1493.8 473.6,1500.4 C465.8,1507.0 458.1,1513.9 450.9,1521.4 C443.6,1528.8 433.5,1541.1 430.0,1545.0 Z" fill="none" stroke="url(#strk)" stroke-width="16" stroke-linejoin="round"/>
<rect x="0" y="0" width="1500" height="420" fill="#764185"/>
<g font-family="Liberation Sans, sans-serif">
<g font-weight="bold" fill="#ffffff" stroke="#ffffff" stroke-width="5.6" stroke-linejoin="miter" stroke-miterlimit="3" font-size="87"><text x="238.3" y="251.5" textLength="452.8" lengthAdjust="spacingAndGlyphs">Supports</text><text x="718.6" y="251.5" textLength="547.1" lengthAdjust="spacingAndGlyphs">Circulation</text><text x="151.1" y="365.0" textLength="68.9" lengthAdjust="spacingAndGlyphs">&amp;</text><text x="250.6" y="365.0" textLength="737.4" lengthAdjust="spacingAndGlyphs">Cardiovascular</text><text x="1020.1" y="365.0" textLength="332.6" lengthAdjust="spacingAndGlyphs">Health</text></g>
<text x="480" y="813.5" font-weight="bold" font-size="70" fill="#633d6f" stroke="#633d6f" stroke-width="3" stroke-linejoin="miter" stroke-miterlimit="3" textLength="541" lengthAdjust="spacingAndGlyphs">Serrapeptase</text>
<g font-size="55.5" fill="#383838"><text x="385.6" y="898.8" textLength="148.9" lengthAdjust="spacingAndGlyphs">helps</text><text x="546.6" y="898.8" textLength="134.9" lengthAdjust="spacingAndGlyphs">clear</text><text x="694.4" y="898.8" textLength="181.2" lengthAdjust="spacingAndGlyphs">excess</text><text x="889.6" y="898.8" textLength="227.9" lengthAdjust="spacingAndGlyphs">proteins</text><text x="439.3" y="969.5" textLength="136.2" lengthAdjust="spacingAndGlyphs">from</text><text x="591.6" y="969.5" textLength="92.3" lengthAdjust="spacingAndGlyphs">the</text><text x="697.6" y="969.5" textLength="368.1" lengthAdjust="spacingAndGlyphs">bloodstream,</text><text x="332.6" y="1040.2" textLength="307.0" lengthAdjust="spacingAndGlyphs">supporting</text><text x="653.6" y="1040.2" textLength="206.9" lengthAdjust="spacingAndGlyphs">healthy</text><text x="876.5" y="1040.2" textLength="292.5" lengthAdjust="spacingAndGlyphs">circulation</text><text x="361.4" y="1111.0" textLength="106.2" lengthAdjust="spacingAndGlyphs">and</text><text x="480.3" y="1111.0" textLength="396.9" lengthAdjust="spacingAndGlyphs">cardiovascular</text><text x="894.9" y="1111.0" textLength="248.6" lengthAdjust="spacingAndGlyphs">function.</text></g>
</g>
</svg>
</body></html>
